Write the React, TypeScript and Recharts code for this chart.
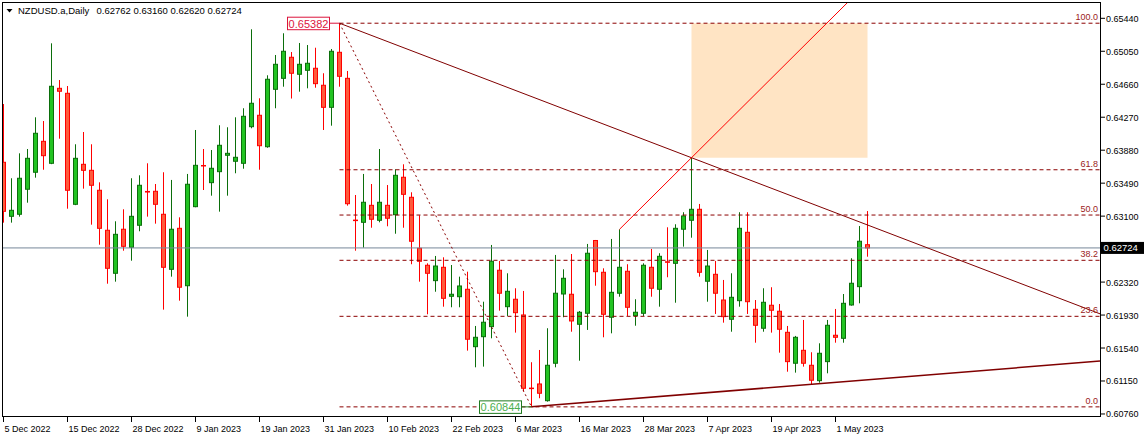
import React from "react";
import {
  ComposedChart,
  Bar,
  XAxis,
  YAxis,
  ReferenceLine,
  ReferenceArea,
  ReferenceDot,
} from "recharts";

// NZDUSD.a daily, 5 Dec 2022 .. 5 May 2023
const opens = [
  0.63737, 0.63098, 0.63122, 0.63418, 0.63619, 0.63985, 0.63725, 0.64612, 0.64553, 0.6324,
  0.63713, 0.63642, 0.63406, 0.62933, 0.62424, 0.62945, 0.62732, 0.62992, 0.63392, 0.63394,
  0.63122, 0.62471, 0.62956, 0.62277, 0.63212, 0.63699, 0.63496, 0.63626, 0.6382, 0.63749,
  0.63725, 0.64158, 0.64293, 0.63921, 0.646, 0.6473, 0.64979, 0.64778, 0.64825, 0.64849,
  0.64648, 0.64387, 0.65038, 0.6473, 0.63053, 0.63027, 0.63228, 0.63051, 0.63228, 0.63117,
  0.6356, 0.63323, 0.6272, 0.62519, 0.62337, 0.62495, 0.62152, 0.62147, 0.62235, 0.61556,
  0.61674, 0.61793, 0.6246, 0.62029, 0.62117, 0.61931, 0.61066, 0.61115, 0.60917, 0.6136,
  0.62179, 0.62176, 0.61821, 0.61951, 0.62812, 0.62436, 0.61904, 0.62188, 0.62448, 0.61923,
  0.61951, 0.62495, 0.62235, 0.6256, 0.62542, 0.62945, 0.63051, 0.63181, 0.6233, 0.62412,
  0.62108, 0.6188, 0.621, 0.62909, 0.61998, 0.61774, 0.62046, 0.61975, 0.61726, 0.6136,
  0.61513, 0.61336, 0.61154, 0.61379, 0.61691, 0.61655, 0.62049, 0.62266, 0.62762,
];
const highs = [
  0.64426, 0.63548, 0.63843, 0.63894, 0.64269, 0.64225, 0.65144, 0.6471, 0.64639, 0.6395,
  0.64095, 0.6395, 0.635, 0.63299, 0.63039, 0.63181, 0.63548, 0.63583, 0.63725, 0.6348,
  0.63619, 0.63528, 0.63086, 0.63599, 0.64119, 0.63894, 0.63882, 0.64175, 0.64151, 0.64269,
  0.64376, 0.6531, 0.64494, 0.64766, 0.65006, 0.65263, 0.65041, 0.65148, 0.65124, 0.65092,
  0.6479, 0.65077, 0.65382, 0.64817, 0.6335, 0.63599, 0.6348, 0.63894, 0.63468, 0.63654,
  0.63713, 0.63382, 0.6311, 0.62542, 0.62629, 0.62613, 0.62522, 0.62384, 0.62443, 0.61801,
  0.62088, 0.62759, 0.6257, 0.62424, 0.62247, 0.62215, 0.61372, 0.61517, 0.61774, 0.62641,
  0.62471, 0.62652, 0.61978, 0.62771, 0.62818, 0.62483, 0.6283, 0.62944, 0.62531, 0.62117,
  0.62542, 0.62712, 0.62661, 0.62968, 0.63004, 0.63146, 0.63791, 0.63244, 0.627, 0.6257,
  0.62345, 0.62424, 0.63146, 0.63146, 0.62108, 0.62247, 0.62259, 0.62061, 0.61801, 0.61683,
  0.61872, 0.6149, 0.61596, 0.61872, 0.62002, 0.62179, 0.62602, 0.62983, 0.6316,
];
const lows = [
  0.63023, 0.63023, 0.63094, 0.63259, 0.63555, 0.63649, 0.63715, 0.64016, 0.63188, 0.6323,
  0.63425, 0.62999, 0.62762, 0.62301, 0.62325, 0.62691, 0.62573, 0.62921, 0.63094, 0.63011,
  0.61994, 0.62384, 0.621, 0.61911, 0.63205, 0.63409, 0.63342, 0.63153, 0.63342, 0.63607,
  0.63661, 0.64139, 0.63649, 0.63909, 0.64376, 0.64631, 0.64491, 0.64572, 0.64612, 0.64619,
  0.64119, 0.6417, 0.64631, 0.63224, 0.62691, 0.62727, 0.62963, 0.63027, 0.6298, 0.62892,
  0.62963, 0.62531, 0.62325, 0.61939, 0.62206, 0.62029, 0.62022, 0.62022, 0.61509, 0.61312,
  0.6132, 0.61655, 0.61982, 0.61919, 0.61722, 0.61024, 0.60844, 0.60946, 0.60906, 0.61312,
  0.61904, 0.61733, 0.6139, 0.61754, 0.62277, 0.61667, 0.61714, 0.62147, 0.61919, 0.61804,
  0.61919, 0.62147, 0.62029, 0.62377, 0.62076, 0.62739, 0.62845, 0.62384, 0.62088, 0.61943,
  0.6184, 0.61733, 0.62029, 0.61943, 0.61603, 0.61733, 0.61722, 0.61485, 0.6126, 0.61249,
  0.6132, 0.61111, 0.6113, 0.61241, 0.61603, 0.61603, 0.62041, 0.62069, 0.6262,
];
const closes = [
  0.63157, 0.63169, 0.63548, 0.63784, 0.6408, 0.63815, 0.64636, 0.64577, 0.63406, 0.63784,
  0.63642, 0.63465, 0.62956, 0.62483, 0.62885, 0.62743, 0.63098, 0.63465, 0.63385, 0.6324,
  0.62495, 0.62945, 0.62259, 0.63477, 0.63701, 0.63694, 0.63666, 0.63938, 0.63843, 0.63796,
  0.64281, 0.64435, 0.63933, 0.64719, 0.64896, 0.6505, 0.6479, 0.64896, 0.64908, 0.64667,
  0.64387, 0.6505, 0.64754, 0.63247, 0.63048, 0.63264, 0.63063, 0.63264, 0.63075, 0.63583,
  0.63358, 0.62803, 0.62566, 0.62424, 0.6251, 0.62128, 0.62176, 0.62274, 0.61644, 0.61667,
  0.61845, 0.62566, 0.62188, 0.62211, 0.61958, 0.61064, 0.61062, 0.61005, 0.61336, 0.62188,
  0.62365, 0.6186, 0.61963, 0.62661, 0.62443, 0.61939, 0.62199, 0.62495, 0.62022, 0.61963,
  0.62519, 0.62247, 0.62625, 0.62556, 0.62956, 0.63102, 0.63181, 0.62436, 0.6251, 0.62188,
  0.61911, 0.6214, 0.62956, 0.62088, 0.61809, 0.62081, 0.61987, 0.61762, 0.61379, 0.61667,
  0.6136, 0.61159, 0.61478, 0.61809, 0.61667, 0.62069, 0.62306, 0.62803, 0.62724,
];

const dateTickIdx = [0, 8, 16, 24, 32, 40, 48, 56, 64, 72, 80, 88, 96, 104];
const dateLabels = [
  "5 Dec 2022", "15 Dec 2022", "28 Dec 2022", "9 Jan 2023", "19 Jan 2023", "31 Jan 2023",
  "10 Feb 2023", "22 Feb 2023", "6 Mar 2023", "16 Mar 2023", "28 Mar 2023", "7 Apr 2023",
  "19 Apr 2023", "1 May 2023",
];
const priceTicks = [
  0.6544, 0.6505, 0.6466, 0.6427, 0.6388, 0.6349, 0.631, 0.6232, 0.6193, 0.6154, 0.6115, 0.6076,
];

// drawing objects
const fibHigh = { i: 42, p: 0.65382 };
const fibLow = { i: 66, p: 0.60844 };
const fibRatios = [100, 61.8, 50, 38.2, 23.6, 0];
const downTrend = [{ i: 42, p: 0.65382 }, { i: 86, p: 0.63791 }];
const upTrend = [{ i: 66, p: 0.60844 }, { i: 101, p: 0.61111 }];
const redRay = [{ i: 77, p: 0.62944 }, { i: 86, p: 0.63791 }];
const zone = { i1: 86, i2: 108, p1: 0.63791, p2: 0.65382 };
const lastPrice = 0.62724;
const titleQuote = ["0.62762", "0.63160", "0.62620", "0.62724"];

const X_MIN = -0.0625;
const X_MAX = 137.0625;
const Y_MIN = 0.60736;
const Y_MAX = 0.65621;

const FONT = "'Liberation Sans', Arial, sans-serif";
const FIB = "#8b0000";

const rows = opens.map((o, i) => ({
  i,
  open: o,
  high: highs[i],
  low: lows[i],
  close: closes[i],
  range: [lows[i], highs[i]],
}));

const along = (pts: { i: number; p: number }[], x: number) =>
  pts[0].p + ((x - pts[0].i) * (pts[1].p - pts[0].p)) / (pts[1].i - pts[0].i);

function Candle(props: any) {
  const { x, y, width, height, payload } = props;
  if (x == null || y == null || !payload) return null;
  const top = Math.min(y, y + height);
  const bot = Math.max(y, y + height);
  const { open, close, high, low } = payload;
  const span = high - low;
  const toY = (v: number) => (span > 0 ? top + ((high - v) / span) * (bot - top) : top);
  const cx = Math.round(x + width / 2 - 0.5) + 0.5;
  const up = close >= open;
  const yo = toY(open);
  const yc = toY(close);
  const bTop = Math.min(yo, yc);
  const bH = Math.max(Math.abs(yo - yc), 0.5);
  const wick = up ? "#0b6e0b" : "#ff0000";
  const fill = up ? "#22c322" : "#ff5a3c";
  return (
    <g>
      <line x1={cx} x2={cx} y1={top} y2={bot} stroke={wick} strokeWidth={1} />
      <rect x={cx - 2} y={bTop} width={4} height={bH} fill={fill} stroke={wick} strokeWidth={1} />
    </g>
  );
}

function DateTick(props: any) {
  const { x, y, payload } = props;
  const k = dateTickIdx.indexOf(payload.value);
  if (k < 0) return null;
  return (
    <g>
      <line x1={x} x2={x} y1={y + 1} y2={y + 6} stroke="#000" />
      <text x={x + 1} y={y + 16} fontSize={9} fontFamily={FONT} fill="#000">
        {dateLabels[k]}
      </text>
    </g>
  );
}

function PriceTick(props: any) {
  const { x, y, payload } = props;
  return (
    <g>
      <line x1={x + 1} x2={x + 5} y1={y} y2={y} stroke="#000" />
      <text x={x + 6} y={y + 3.5} fontSize={9} fontFamily={FONT} fill="#000">
        {Number(payload.value).toFixed(5)}
      </text>
    </g>
  );
}

function FibLabel(text: string) {
  return (p: any) => (
    <text x={p.cx - 1.5} y={p.cy - 3} textAnchor="end" fontSize={9} fontFamily={FONT} fill="#9b1b1b">
      {text}
    </text>
  );
}

function PriceTag(text: string, border: string, color: string) {
  return (p: any) => (
    <g>
      <line x1={p.cx - 10} x2={p.cx} y1={p.cy} y2={p.cy} stroke={border} />
      <rect x={p.cx - 52} y={p.cy - 6} width={42} height={12.5} fill="#fff" stroke={border} />
      <text x={p.cx - 31} y={p.cy + 4.5} textAnchor="middle" fontSize={11} fontFamily={FONT} fill={color}>
        {text}
      </text>
    </g>
  );
}

const lastTag = (p: any) => (
  <g>
    <rect x={p.cx + 1.5} y={p.cy - 6} width={43} height={12} fill="#000" />
    <text x={p.cx + 4} y={p.cy + 3.5} fontSize={9.5} fontFamily={FONT} fill="#fff">
      {lastPrice.toFixed(5)}
    </text>
  </g>
);

export default function App() {
  const fibRange = fibHigh.p - fibLow.p;
  return (
    <div style={{ position: "absolute", left: 0, top: 0, width: 1146, height: 438, background: "#fff" }}>
      <ComposedChart
        width={1146}
        height={438}
        data={rows}
        margin={{ top: 3, right: 0, bottom: 0, left: 3 }}
        style={{ fontFamily: FONT }}
      >
        <XAxis
          dataKey="i"
          type="number"
          domain={[X_MIN, X_MAX]}
          allowDataOverflow
          ticks={dateTickIdx}
          interval={0}
          tick={<DateTick />}
          tickLine={false}
          axisLine={false}
          tickSize={0}
          tickMargin={0}
          height={22}
        />
        <YAxis
          orientation="right"
          domain={[Y_MIN, Y_MAX]}
          allowDataOverflow
          ticks={priceTicks}
          interval={0}
          tick={<PriceTick />}
          tickLine={false}
          axisLine={false}
          tickSize={0}
          tickMargin={0}
          width={46}
        />
        <ReferenceArea
          x1={zone.i1}
          x2={zone.i2}
          y1={zone.p1}
          y2={zone.p2}
          fill="#ffe4c4"
          fillOpacity={1}
          stroke="none"
        />
        <ReferenceLine y={lastPrice} stroke="#778899" strokeWidth={1} />
        {fibRatios.map((r) => {
          const lvl = fibLow.p + (fibRange * r) / 100;
          return (
            <ReferenceLine
              key={"f" + r}
              segment={[
                { x: fibHigh.i, y: lvl },
                { x: X_MAX, y: lvl },
              ]}
              stroke={FIB}
              strokeDasharray="4 3"
              strokeWidth={1}
            />
          );
        })}
        <ReferenceLine
          segment={[
            { x: fibHigh.i, y: fibHigh.p },
            { x: fibLow.i, y: fibLow.p },
          ]}
          stroke={FIB}
          strokeDasharray="2 3"
          strokeWidth={1}
        />
        <ReferenceLine
          segment={[
            { x: downTrend[0].i, y: downTrend[0].p },
            { x: X_MAX, y: along(downTrend, X_MAX) },
          ]}
          stroke="#800000"
          strokeWidth={1}
        />
        <ReferenceLine
          segment={[
            { x: upTrend[0].i, y: upTrend[0].p },
            { x: X_MAX, y: along(upTrend, X_MAX) },
          ]}
          stroke="#800000"
          strokeWidth={1.5}
        />
        <ReferenceLine
          segment={[
            { x: redRay[0].i, y: redRay[0].p },
            { x: 110, y: along(redRay, 110) },
          ]}
          ifOverflow="hidden"
          stroke="#ff0000"
          strokeWidth={1}
        />
        <Bar dataKey="range" barSize={5} shape={<Candle />} isAnimationActive={false} />
        {fibRatios.map((r) => (
          <ReferenceDot
            key={"l" + r}
            x={137}
            y={fibLow.p + (fibRange * r) / 100}
            r={0}
            shape={FibLabel(r.toFixed(1))}
          />
        ))}
        <ReferenceDot
          x={fibHigh.i}
          y={fibHigh.p}
          r={0}
          shape={PriceTag(fibHigh.p.toFixed(5), "#dc143c", "#dc143c")}
        />
        <ReferenceDot
          x={fibLow.i}
          y={fibLow.p}
          r={0}
          shape={PriceTag(fibLow.p.toFixed(5), "#1f7a1f", "#4caf50")}
        />
        <ReferenceDot x={137} y={lastPrice} r={0} shape={lastTag} />
      </ComposedChart>
      <div
        style={{
          position: "absolute",
          left: 2,
          top: 2,
          width: 1099,
          height: 415,
          border: "1px solid #000",
          boxSizing: "border-box",
          pointerEvents: "none",
        }}
      />
      <svg
        width={260}
        height={18}
        style={{ position: "absolute", left: 0, top: 0, pointerEvents: "none" }}
      >
        <polygon points="6.5,9 12.5,9 9.5,12.5" fill="#000" />
        <text x={18} y={14} fontSize={9.5} fontFamily={FONT} fill="#000">
          NZDUSD.a,Daily
        </text>
        <text x={96.5} y={14} fontSize={9.5} fontFamily={FONT} fill="#000">
          {titleQuote.join(" ")}
        </text>
      </svg>
    </div>
  );
}
